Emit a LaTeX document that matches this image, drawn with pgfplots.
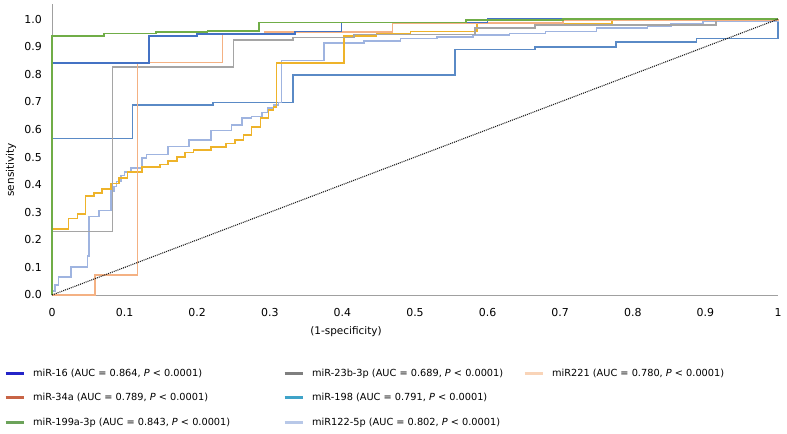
\documentclass[border=0pt]{standalone}
\usepackage{fontspec}
\setmainfont{DejaVu Sans}
\usepackage{pgfplots}
\pgfplotsset{compat=1.18}
\definecolor{cgreen}{HTML}{70AD47}
\definecolor{cblue}{HTML}{4472C4}
\definecolor{csalmon}{HTML}{F4B183}
\definecolor{cgray}{HTML}{A5A5A5}
\definecolor{cgold}{HTML}{EEB32A}
\definecolor{clav}{HTML}{9FB4E0}
\definecolor{csteel}{HTML}{5A8AC6}
\definecolor{axgray}{HTML}{A0A0A0}
\definecolor{l16}{HTML}{2424C8}
\definecolor{l34}{HTML}{C86446}
\definecolor{l199}{HTML}{6CA35A}
\definecolor{l23}{HTML}{7F7F7F}
\definecolor{l198}{HTML}{3FA3C8}
\definecolor{l122}{HTML}{B8C8E8}
\definecolor{l221}{HTML}{F9D4B8}
\begin{document}
\begin{tikzpicture}
\begin{axis}[
  scale only axis, width=726bp, height=291bp,
  xmin=0, xmax=1, ymin=0, ymax=1.055,
  axis x line=bottom, axis y line=left,
  axis line style={draw=axgray, line width=1bp, -},
  xtick={0,0.1,0.2,0.3,0.4,0.5,0.6,0.7,0.8,0.9,1},
  xticklabels={0,0.1,0.2,0.3,0.4,0.5,0.6,0.7,0.8,0.9,1},
  ytick={0,0.1,0.2,0.3,0.4,0.5,0.6,0.7,0.8,0.9,1},
  yticklabels={0.0,0.1,0.2,0.3,0.4,0.5,0.6,0.7,0.8,0.9,1.0},
  major tick length=0pt,
  tick label style={font=\fontsize{11}{13}\selectfont},
  xticklabel style={yshift=-10bp},
  yticklabel style={xshift=-6.7bp},
  xlabel={(1-specificity)}, ylabel={sensitivity},
  label style={font=\fontsize{10.5}{12}\selectfont},
  xlabel style={at={(axis description cs:0.405,-0.127)}, anchor=center},
  ylabel style={at={(axis description cs:-0.0565,0.43)}, anchor=center},
  clip=false,
  legend columns=3,
  legend cell align=left,
  legend style={draw=none, fill=none, at={(axis description cs:-0.0661,-0.253)}, anchor=north west,
    font=\fontsize{9.8}{12}\selectfont, inner sep=0pt, row sep=15.5bp, column sep=0pt, nodes={inner sep=0pt}},
  legend image code/.code={\draw[line width=3bp] (0bp,0bp) -- (18bp,0bp);},
  every axis plot/.append style={line width=1.6bp},
]
% miR-198 (steel blue)
\addplot[csteel, forget plot] coordinates {
(0,0)(0,0.567)(0.111,0.567)(0.111,0.689)(0.222,0.689)(0.222,0.698)(0.332,0.698)(0.332,0.798)
(0.555,0.798)(0.555,0.89)(0.665,0.89)(0.665,0.9)(0.777,0.9)(0.777,0.917)(0.888,0.917)(0.888,0.93)(1,0.93)(1,1)};
% miR122-5p (lavender)
\addplot[clav, forget plot] coordinates {
(0,0)(0,0.015)(0.004,0.015)(0.004,0.036)(0.009,0.036)(0.009,0.066)(0.026,0.066)(0.026,0.102)(0.049,0.102)(0.049,0.141)
(0.051,0.141)(0.051,0.285)(0.065,0.285)(0.065,0.307)(0.081,0.307)(0.081,0.376)(0.085,0.376)(0.085,0.394)(0.089,0.394)(0.089,0.412)
(0.095,0.412)(0.095,0.433)(0.1,0.433)(0.1,0.445)(0.109,0.445)(0.109,0.461)(0.124,0.461)(0.124,0.497)(0.13,0.497)(0.13,0.51)
(0.16,0.51)(0.16,0.538)(0.189,0.538)(0.189,0.561)(0.219,0.561)(0.219,0.597)(0.247,0.597)(0.247,0.616)(0.262,0.616)(0.262,0.641)
(0.275,0.641)(0.275,0.647)(0.289,0.647)(0.289,0.662)(0.297,0.662)(0.297,0.678)(0.305,0.678)(0.305,0.689)(0.312,0.689)(0.312,0.698)
(0.316,0.698)(0.316,0.85)(0.375,0.85)(0.375,0.914)(0.43,0.914)(0.43,0.92)(0.48,0.92)(0.48,0.93)(0.53,0.93)(0.53,0.936)
(0.58,0.936)(0.58,0.942)(0.63,0.942)(0.63,0.948)(0.68,0.948)(0.68,0.956)(0.75,0.956)(0.75,0.968)(0.82,0.968)(0.82,0.976)
(0.853,0.976)(0.853,0.984)(0.897,0.984)(0.897,0.993)(1,0.993)(1,1)};
% gold
\addplot[cgold, forget plot] coordinates {
(0,0)(0,0.24)(0.023,0.24)(0.023,0.278)(0.035,0.278)(0.035,0.294)(0.046,0.294)(0.046,0.358)(0.058,0.358)(0.058,0.37)
(0.069,0.37)(0.069,0.384)(0.081,0.384)(0.081,0.404)(0.092,0.404)(0.092,0.424)(0.104,0.424)(0.104,0.445)(0.124,0.445)(0.124,0.465)
(0.149,0.465)(0.149,0.473)(0.160,0.473)(0.160,0.485)(0.172,0.485)(0.172,0.5)(0.183,0.5)(0.183,0.516)(0.195,0.516)(0.195,0.526)
(0.219,0.526)(0.219,0.536)(0.24,0.536)(0.24,0.549)(0.252,0.549)(0.252,0.562)(0.264,0.562)(0.264,0.58)(0.275,0.58)(0.275,0.609)
(0.287,0.609)(0.287,0.641)(0.298,0.641)(0.298,0.67)(0.305,0.67)(0.305,0.682)(0.309,0.682)(0.309,0.842)(0.402,0.842)(0.402,0.938)
(0.447,0.938)(0.447,0.948)(0.494,0.948)(0.494,0.956)(0.585,0.956)(0.585,0.984)(0.771,0.984)(0.771,1)(1,1)};
% miR-23b-3p (gray)
\addplot[cgray, forget plot] coordinates {
(0,0)(0,0.23)(0.0836,0.23)(0.0836,0.826)(0.25,0.826)(0.25,0.925)(0.332,0.925)(0.332,0.933)(0.416,0.933)(0.416,0.944)
(0.583,0.944)(0.583,0.968)(0.665,0.968)(0.665,0.978)(0.915,0.978)(0.915,0.996)(1,0.996)(1,1)};
% miR221 (salmon)
\addplot[csalmon, forget plot] coordinates {
(0,0)(0.059,0)(0.059,0.072)(0.118,0.072)(0.118,0.843)(0.235,0.843)(0.235,0.944)(0.293,0.944)(0.293,0.954)
(0.469,0.954)(0.469,0.987)(0.704,0.987)(0.704,0.996)(1,0.996)(1,1)};
% miR-16 (blue)
\addplot[cblue, forget plot] coordinates {
(0,0)(0,0.842)(0.134,0.842)(0.134,0.938)(0.2,0.938)(0.2,0.946)(0.335,0.946)(0.335,0.956)(0.399,0.956)(0.399,0.988)(0.6,0.988)(0.6,1)(1,1)};
% miR-199a-3p (green)
\addplot[cgreen, forget plot] coordinates {
(0,0)(0,0.938)(0.072,0.938)(0.072,0.948)(0.143,0.948)(0.143,0.954)(0.214,0.954)(0.214,0.957)(0.285,0.957)(0.285,0.988)
(0.57,0.988)(0.57,0.996)(0.704,0.996)(0.704,1)(1,1)};
% reference diagonal
\addplot[black!90, line width=1.1bp, dash pattern=on 1bp off 1bp, forget plot] coordinates {(0,0)(1,1)};

\addlegendimage{l16}
\addlegendentry{\makebox[258bp][l]{\hspace{8bp}miR-16 (AUC = 0.864, \textit{P} < 0.0001)}}
\addlegendimage{l23}
\addlegendentry{\makebox[219bp][l]{\hspace{8bp}miR-23b-3p (AUC = 0.689, \textit{P} < 0.0001)}}
\addlegendimage{l221}
\addlegendentry{\hspace{8bp}miR221 (AUC = 0.780, \textit{P} < 0.0001)}
\addlegendimage{l34}
\addlegendentry{\makebox[258bp][l]{\hspace{8bp}miR-34a (AUC = 0.789, \textit{P} < 0.0001)}}
\addlegendimage{l198}
\addlegendentry{\makebox[219bp][l]{\hspace{8bp}miR-198 (AUC = 0.791, \textit{P} < 0.0001)}}
\addlegendimage{empty legend}
\addlegendentry{}
\addlegendimage{l199}
\addlegendentry{\makebox[258bp][l]{\hspace{8bp}miR-199a-3p (AUC = 0.843, \textit{P} < 0.0001)}}
\addlegendimage{l122}
\addlegendentry{\makebox[219bp][l]{\hspace{8bp}miR122-5p (AUC = 0.802, \textit{P} < 0.0001)}}

\coordinate (o) at (rel axis cs:0,0);
\coordinate (e) at (rel axis cs:1,1);
\end{axis}
\pgfresetboundingbox
\path ([xshift=-52bp,yshift=-139bp]o) rectangle ([xshift=9bp,yshift=4bp]e);
\end{tikzpicture}
\end{document}
